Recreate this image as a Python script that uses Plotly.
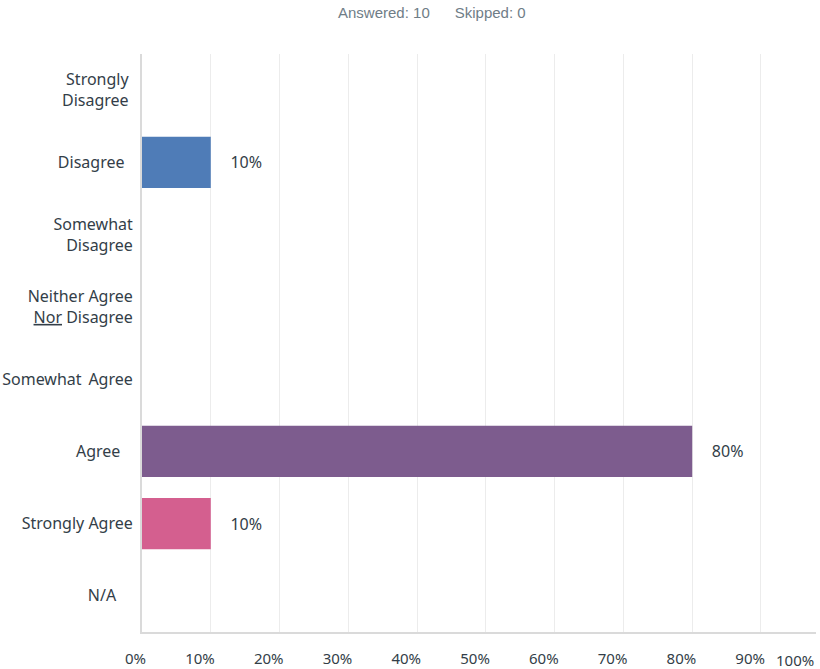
import plotly.graph_objects as go

NB = "\u00a0"

# Response options, top to bottom
categories = [
    "Strongly Disagree",
    "Disagree",
    "Somewhat Disagree",
    "Neither Agree Nor Disagree",
    "Somewhat Agree",
    "Agree",
    "Strongly Agree",
    "N/A",
]
# Tick text shown for each option
category_labels = [
    "Strongly" + NB + "<br>Disagree" + NB,
    "Disagree" + NB * 2,
    "Somewhat<br>Disagree",
    "Neither Agree<br><u>Nor</u> Disagree",
    "Somewhat" + NB + "\u2009Agree",
    "Agree" + NB * 3,
    "Strongly Agree",
    "N/A" + NB * 4,
]
# Share of respondents per option
shares = [0.0, 0.10, 0.0, 0.0, 0.0, 0.80, 0.10, 0.0]
bar_colors = ["#4f8fc4", "#4f7cb7", "#58a4b0", "#a0a0a0", "#8aa34f", "#7d5c8e", "#d45f8f", "#999999"]

x_ticks = [0.0, 0.1, 0.2, 0.3, 0.4, 0.5, 0.6, 0.7, 0.8, 0.9]
x_tick_text = ["0%", "10%", "20%", "30%", "40%", "50%", "60%", "70%", "80%", "90%"]
last_tick_text = "100%"

answered, skipped = 10, 0

bar_text = [(NB * 4 + f"{v:.0%}") if v > 0 else "" for v in shares]

fig = go.Figure(
    go.Bar(
        y=categories,
        x=shares,
        orientation="h",
        marker=dict(color=bar_colors, line=dict(width=0)),
        text=bar_text,
        textposition="outside",
        constraintext="none",
        cliponaxis=False,
        textfont=dict(family="Noto Sans", size=16, color="#333e48"),
        hoverinfo="skip",
    )
)

fig.update_layout(
    width=820,
    height=669,
    margin=dict(l=142, r=4, t=54, b=37),
    plot_bgcolor="white",
    paper_bgcolor="white",
    bargap=0.29,
    showlegend=False,
    font=dict(family="Noto Sans", size=15, color="#333e48"),
    annotations=[
        dict(
            text=f"Answered: {answered}" + NB * 6 + f"Skipped: {skipped}",
            xref="paper", yref="paper", x=0.43, y=1, yshift=42,
            xanchor="center", yanchor="middle", showarrow=False,
            font=dict(family="Liberation Sans", size=15, color="#6f7d87"),
        ),
        dict(
            text=last_tick_text,
            xref="paper", yref="paper", x=1, y=0, yshift=-28,
            xanchor="right", yanchor="middle", showarrow=False,
            font=dict(family="Noto Sans", size=15, color="#333e48"),
        ),
    ],
)

fig.update_xaxes(
    range=[0, 0.98],
    automargin=False,
    tickvals=x_ticks,
    ticktext=x_tick_text,
    ticklabelposition="outside left",
    ticklabelshift=5,
    ticklabelstandoff=12,
    showgrid=True,
    gridcolor="#ececec",
    gridwidth=1,
    zeroline=False,
    showline=True,
    linecolor="#dadada",
    linewidth=2,
    ticks="",
    tickfont=dict(family="Noto Sans", size=15, color="#333e48"),
)

fig.update_yaxes(
    categoryorder="array",
    categoryarray=categories,
    autorange="reversed",
    automargin=False,
    tickvals=categories,
    ticktext=category_labels,
    ticklabelstandoff=4,
    showgrid=False,
    showline=True,
    linecolor="#dadada",
    linewidth=2,
    ticks="",
    tickfont=dict(family="Noto Sans", size=16, color="#333e48"),
)

fig.write_html("out.html")
